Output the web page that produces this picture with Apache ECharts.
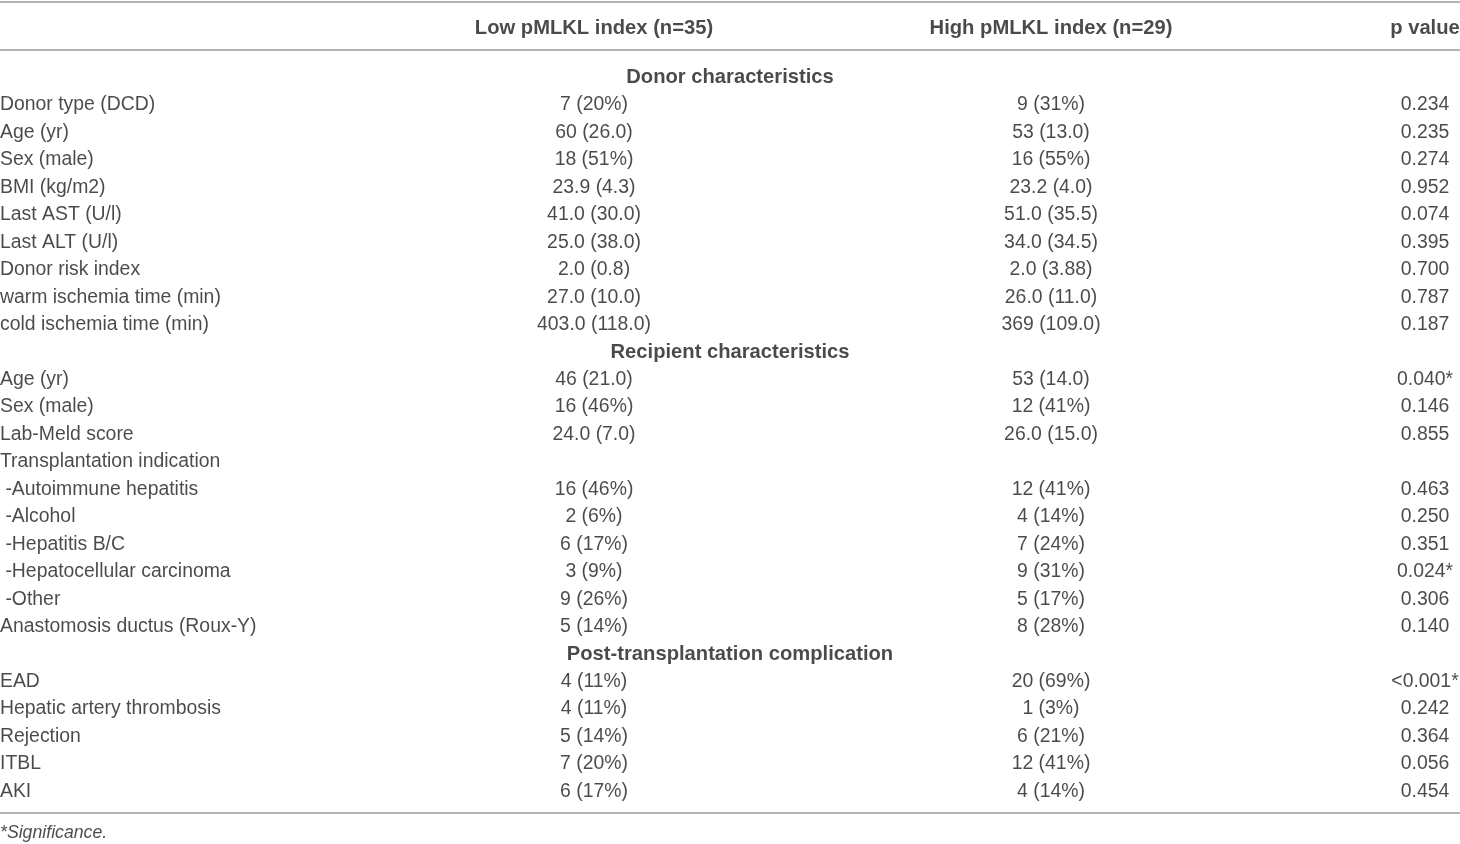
<!DOCTYPE html>
<html>
<head>
<meta charset="utf-8">
<script src="https://cdn.jsdelivr.net/npm/echarts@6/dist/echarts.min.js"></script>
<style>
html,body{margin:0;padding:0;background:#fff;}
#chart{width:1460px;height:844px;}
</style>
</head>
<body>
<div id="chart"></div>
<script>
const columnHeaders = ["Low pMLKL index (n=35)", "High pMLKL index (n=29)", "p value"];
const rowLabels = [
  "Donor characteristics",
  "Donor type (DCD)", "Age (yr)", "Sex (male)", "BMI (kg/m2)", "Last AST (U/l)", "Last ALT (U/l)",
  "Donor risk index", "warm ischemia time (min)", "cold ischemia time (min)",
  "Recipient characteristics",
  "Age (yr)", "Sex (male)", "Lab-Meld score", "Transplantation indication",
  " -Autoimmune hepatitis", " -Alcohol", " -Hepatitis B/C", " -Hepatocellular carcinoma", " -Other",
  "Anastomosis ductus (Roux-Y)",
  "Post-transplantation complication",
  "EAD", "Hepatic artery thrombosis", "Rejection", "ITBL", "AKI"
];
const sectionRows = [0, 10, 21];
const lowValues = [
  "",
  "7 (20%)", "60 (26.0)", "18 (51%)", "23.9 (4.3)", "41.0 (30.0)", "25.0 (38.0)",
  "2.0 (0.8)", "27.0 (10.0)", "403.0 (118.0)",
  "",
  "46 (21.0)", "16 (46%)", "24.0 (7.0)", "",
  "16 (46%)", "2 (6%)", "6 (17%)", "3 (9%)", "9 (26%)",
  "5 (14%)",
  "",
  "4 (11%)", "4 (11%)", "5 (14%)", "7 (20%)", "6 (17%)"
];
const highValues = [
  "",
  "9 (31%)", "53 (13.0)", "16 (55%)", "23.2 (4.0)", "51.0 (35.5)", "34.0 (34.5)",
  "2.0 (3.88)", "26.0 (11.0)", "369 (109.0)",
  "",
  "53 (14.0)", "12 (41%)", "26.0 (15.0)", "",
  "12 (41%)", "4 (14%)", "7 (24%)", "9 (31%)", "5 (17%)",
  "8 (28%)",
  "",
  "20 (69%)", "1 (3%)", "6 (21%)", "12 (41%)", "4 (14%)"
];
const pValues = [
  "",
  "0.234", "0.235", "0.274", "0.952", "0.074", "0.395",
  "0.700", "0.787", "0.187",
  "",
  "0.040*", "0.146", "0.855", "",
  "0.463", "0.250", "0.351", "0.024*", "0.306",
  "0.140",
  "",
  "<0.001*", "0.242", "0.364", "0.056", "0.454"
];
const footnote = "*Significance.";

// layout constants (x in px along a 0..1460 value axis, y in row units)
const X_LABEL = 0, X_SECTION = 730, X_LOW = 594, X_HIGH = 1051, X_P = 1425;
const Y_HEADER = -1.784, Y_FOOT = 27.53;
const LINE_TOP = -2.71, LINE_HEAD = -0.947, LINE_BOTTOM = 26.84;

const TXT = '#1e1b1c';
const FONT = 'Liberation Sans, Arial, sans-serif';

function textSeries(data, align, extra) {
  return {
    type: 'scatter',
    symbolSize: 0,
    silent: true,
    animation: false,
    data: data,
    label: Object.assign({
      show: true,
      position: align === 'left' ? 'right' : 'inside',
      distance: 0,
      offset: [0, 1.5],
      align: align,
      verticalAlign: 'middle',
      color: TXT,
      fontFamily: FONT,
      fontSize: 19.4,
      formatter: p => p.value[2]
    }, extra || {})
  };
}

const bodyLabels = [], sectionLabels = [], lowData = [], highData = [], pData = [];
rowLabels.forEach((lab, i) => {
  if (sectionRows.indexOf(i) >= 0) {
    sectionLabels.push([X_SECTION, i, lab]);
  } else {
    bodyLabels.push([X_LABEL, i, lab]);
  }
  if (lowValues[i]) lowData.push([X_LOW, i, lowValues[i]]);
  if (highValues[i]) highData.push([X_HIGH, i, highValues[i]]);
  if (pValues[i]) pData.push([X_P, i, pValues[i]]);
});
const headerData = [
  [X_LOW, Y_HEADER, columnHeaders[0]],
  [X_HIGH, Y_HEADER, columnHeaders[1]],
  [X_P, Y_HEADER, columnHeaders[2]]
];

const chart = echarts.init(document.getElementById('chart'));
chart.setOption({
  backgroundColor: '#fff',
  animation: false,
  grid: { left: 0, right: 0, top: 0, bottom: 0, containLabel: false },
  xAxis: { type: 'value', min: 0, max: 1460, show: false },
  yAxis: { type: 'value', min: -2.768, max: 27.968, inverse: true, show: false },
  series: [
    Object.assign(textSeries(bodyLabels, 'left'), {
      markLine: {
        silent: true,
        symbol: 'none',
        animation: false,
        label: { show: false },
        lineStyle: { color: '#9a9a9a', width: 1.6, type: 'solid' },
        data: [{ yAxis: LINE_TOP }, { yAxis: LINE_HEAD }, { yAxis: LINE_BOTTOM }]
      }
    }),
    textSeries(sectionLabels, 'center', { fontWeight: 'bold', fontSize: 20.2 }),
    textSeries(lowData, 'center'),
    textSeries(highData, 'center'),
    textSeries(pData, 'center'),
    textSeries(headerData, 'center', { fontWeight: 'bold', fontSize: 20.2 }),
    textSeries([[X_LABEL, Y_FOOT, footnote]], 'left', { fontStyle: 'italic', fontSize: 17.7 })
  ]
});
</script>
</body>
</html>
